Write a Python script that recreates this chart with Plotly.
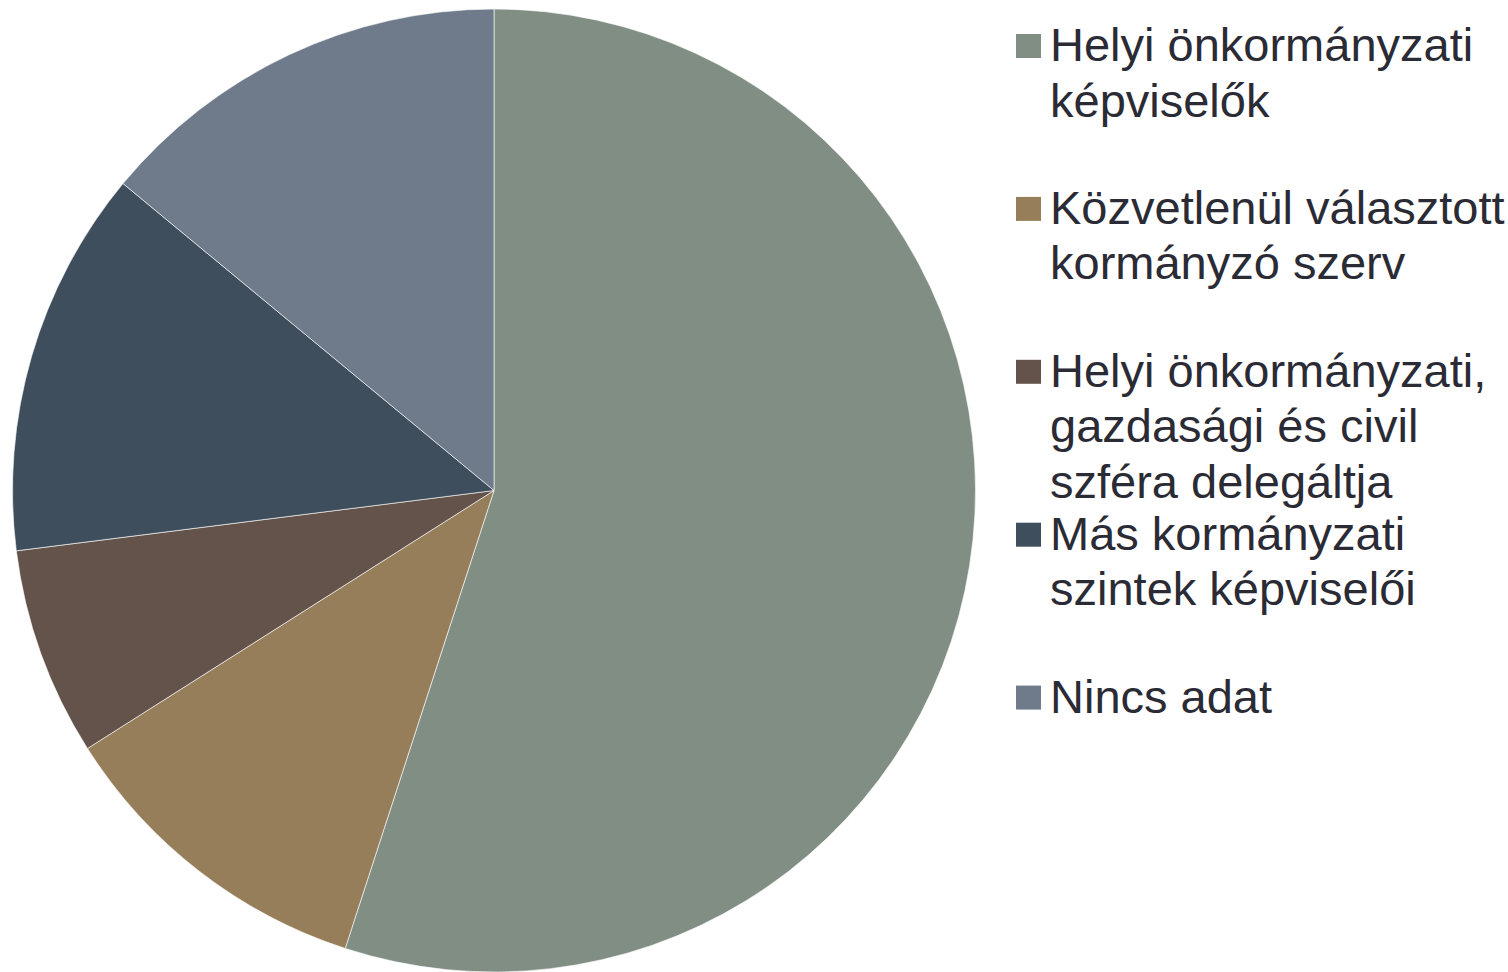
import plotly.graph_objects as go

# ---- data ----
labels = [
    "Helyi önkormányzati\nképviselők",
    "Közvetlenül választott\nkormányzó szerv",
    "Helyi önkormányzati,\ngazdasági és civil\nszféra delegáltja",
    "Más kormányzati\nszintek képviselői",
    "Nincs adat",
]
values = [55, 11, 7, 13, 14]
colors = ["#818E84", "#967E5A", "#63534A", "#3F4E5C", "#6F7B8B"]

W, H = 1508, 972
text_color = "#2B2B35"
font_family = "Liberation Sans, Arial, sans-serif"
font_size = 47

fig = go.Figure()
fig.add_trace(go.Pie(
    labels=[l.replace("\n", " ") for l in labels],
    values=values,
    marker=dict(colors=colors, line=dict(color="rgba(255,255,255,0.6)", width=1)),
    sort=False,
    direction="clockwise",
    rotation=0,
    textinfo="none",
    hoverinfo="label+value",
    showlegend=False,
    domain=dict(x=[0, 988 / W], y=[0, 1 - 9 / H]),
))

# ---- legend (drawn manually to match marker size and line spacing) ----
shapes = []
annotations = []
item_step = 162.9
line_step = 55.3
for k, (lab, col) in enumerate(zip(labels, colors)):
    cy = 46 + item_step * k
    shapes.append(dict(
        type="rect", xref="paper", yref="paper",
        x0=1016 / W, x1=1041 / W,
        y0=1 - (cy + 12) / H, y1=1 - (cy - 12) / H,
        fillcolor=col, line=dict(width=0),
    ))
    for j, line in enumerate(lab.split("\n")):
        baseline = 61 + item_step * k + line_step * j
        annotations.append(dict(
            text=line, xref="paper", yref="paper",
            x=1048 / W, y=1 - (baseline - 0.346 * font_size) / H,
            xanchor="left", yanchor="middle", showarrow=False,
            font=dict(family=font_family, size=font_size, color=text_color),
        ))

fig.update_layout(
    width=W, height=H,
    margin=dict(l=0, r=0, t=0, b=0),
    paper_bgcolor="white",
    plot_bgcolor="white",
    shapes=shapes,
    annotations=annotations,
    showlegend=False,
)

fig.write_html("out.html")
